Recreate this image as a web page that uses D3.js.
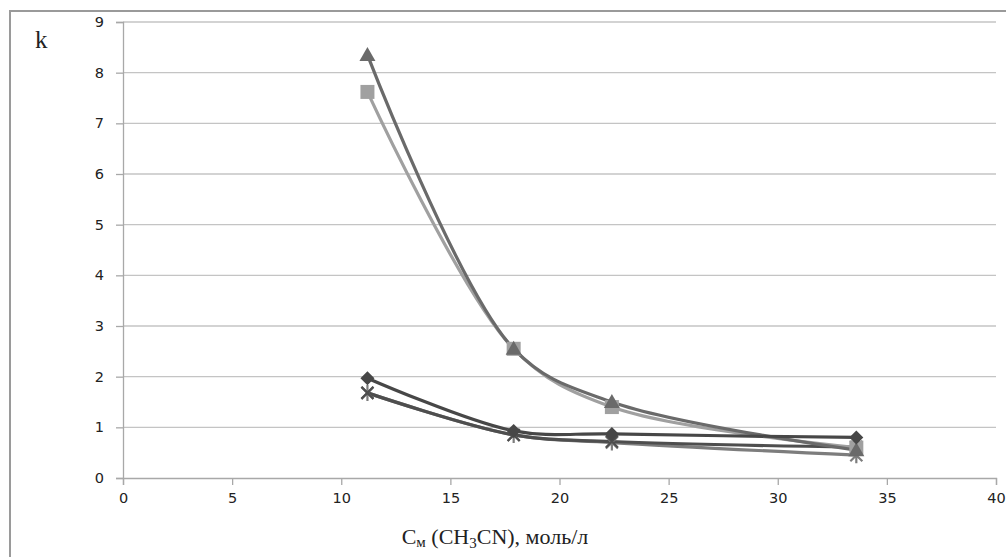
<!DOCTYPE html>
<html>
<head>
<meta charset="utf-8">
<script src="https://cdn.jsdelivr.net/npm/d3@7"></script>
<style>
  body { margin: 0; background: #fff; }
  svg text { fill: #222; }
</style>
</head>
<body>
<script>
"use strict";

// concentration of CH3CN, mol/l
const concentrations = [11.2, 17.9, 22.4, 33.6];

const seriesDiamond = [1.97, 0.93, 0.87, 0.80];
const seriesSquare = [7.62, 2.55, 1.40, 0.60];
const seriesTriangle = [8.35, 2.55, 1.50, 0.55];
const seriesCross = [1.68, 0.85, 0.72, 0.61];
const seriesStar = [1.68, 0.85, 0.70, 0.45];

const xTicks = [0, 5, 10, 15, 20, 25, 30, 35, 40];
const yTicks = [0, 1, 2, 3, 4, 5, 6, 7, 8, 9];

const width = 1006;
const height = 557;

let svg = d3.select("body").append("svg")
    .attr("width", width)
    .attr("height", height);

// outer frame
svg.append("rect")
   .attr("x", 10).attr("y", 11)
   .attr("width", 1010).attr("height", 560)
   .attr("fill", "none")
   .attr("stroke", "#9a9a9a")
   .attr("stroke-width", 2);

let x = d3.scaleLinear().domain([0, 40]).range([123, 996]);
let y = d3.scaleLinear().domain([0, 9]).range([478, 22]);

// horizontal gridlines
svg.append("g")
   .selectAll("line")
   .data(yTicks.slice(1))
   .join("line")
   .attr("x1", x(0)).attr("x2", x(40))
   .attr("y1", d => y(d)).attr("y2", d => y(d))
   .attr("stroke", "#c4c4c4")
   .attr("stroke-width", 1.3);

// y axis
let yAxis = svg.append("g")
   .attr("transform", "translate(" + x(0) + ",0)")
   .call(d3.axisLeft(y).tickValues(yTicks).tickSize(7).tickPadding(12));

// x axis
let xAxis = svg.append("g")
   .attr("transform", "translate(0," + y(0) + ")")
   .call(d3.axisBottom(x).tickValues(xTicks).tickSize(7).tickPadding(8));

[yAxis, xAxis].forEach(a => {
    a.select(".domain").attr("stroke", "#a8a8a8").attr("stroke-width", 1.3);
    a.selectAll(".tick line").attr("stroke", "#a8a8a8").attr("stroke-width", 1.3);
    a.selectAll("text")
     .attr("font-family", "DejaVu Sans, Verdana, sans-serif")
     .attr("font-size", 14.5)
     .attr("fill", "#222");
});

let line = d3.line()
    .x((d, i) => x(concentrations[i]))
    .y(d => y(d))
    .curve(d3.curveCatmullRom.alpha(0.5));

const series = [
    {values: seriesStar, color: "#7d7d7d", marker: "star"},
    {values: seriesCross, color: "#4e4e4e", marker: "cross"},
    {values: seriesSquare, color: "#a0a0a0", marker: "square"},
    {values: seriesTriangle, color: "#6a6a6a", marker: "triangle"},
    {values: seriesDiamond, color: "#474747", marker: "diamond"}
];

series.forEach(s => {
    svg.append("path")
       .datum(s.values)
       .attr("d", line)
       .attr("fill", "none")
       .attr("stroke", s.color)
       .attr("stroke-width", 3.2);
});

function drawMarker(g, s)
{
    let pts = s.values.map((v, i) => [x(concentrations[i]), y(v)]);
    pts.forEach(p => {
        let m = g.append("g").attr("transform", "translate(" + p[0] + "," + p[1] + ")");
        if (s.marker == "square")
            m.append("rect").attr("x", -7).attr("y", -7).attr("width", 14).attr("height", 14).attr("fill", s.color);
        else if (s.marker == "triangle")
            m.append("path").attr("d", "M0,-8L8,6L-8,6Z").attr("fill", s.color);
        else if (s.marker == "diamond")
            m.append("path").attr("d", "M0,-7L7,0L0,7L-7,0Z").attr("fill", s.color);
        else if (s.marker == "cross")
            m.append("path").attr("d", "M-6,-6L6,6M6,-6L-6,6").attr("stroke", s.color).attr("stroke-width", 2.2);
        else
            m.append("path").attr("d", "M-6,-6L6,6M6,-6L-6,6M0,-8L0,8").attr("stroke", s.color).attr("stroke-width", 2.2);
    });
}

series.forEach(s => drawMarker(svg.append("g"), s));

// axis titles
svg.append("text")
   .attr("x", 35).attr("y", 48)
   .attr("font-family", "Liberation Serif, Times New Roman, serif")
   .attr("font-size", 25)
   .text("k");

let title = svg.append("text")
   .attr("x", 495).attr("y", 544)
   .attr("text-anchor", "middle")
   .attr("font-family", "Liberation Serif, Times New Roman, serif")
   .attr("font-size", 22);
title.append("tspan").text("C");
title.append("tspan").attr("font-size", 15).attr("dy", 3).text("м");
title.append("tspan").attr("dy", -3).text(" (CH");
title.append("tspan").attr("font-size", 15).attr("dy", 4).text("3");
title.append("tspan").attr("dy", -4).text("CN), моль/л");
</script>
</body>
</html>
